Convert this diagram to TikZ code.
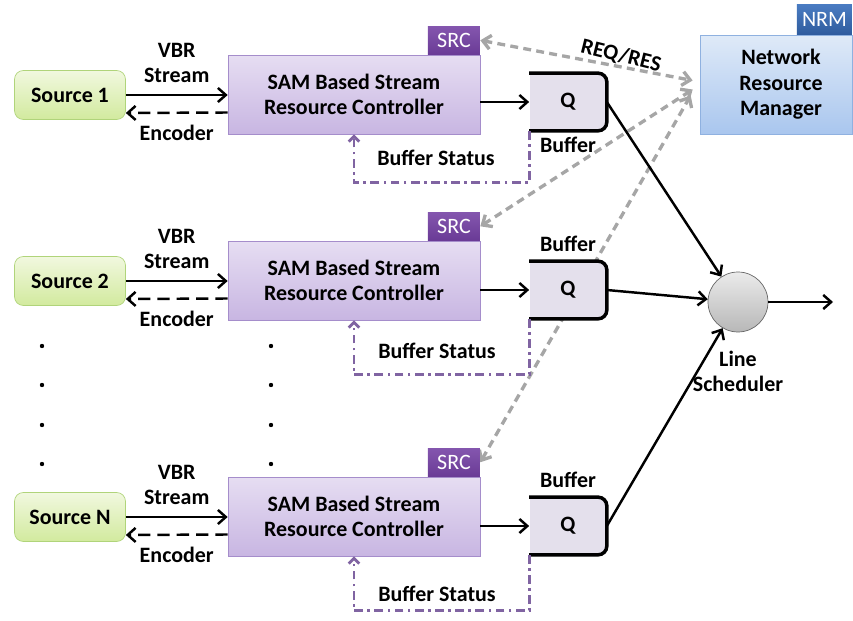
\documentclass[tikz,border=0pt]{standalone}
\usepackage{fontspec}
\setmainfont{Carlito}
\usetikzlibrary{positioning, arrows.meta, calc, backgrounds}

\definecolor{srctop}{HTML}{F1F8DF}
\definecolor{srcbot}{HTML}{D2EA9E}
\definecolor{srcline}{HTML}{B0D47A}
\definecolor{samtop}{HTML}{E6DDF2}
\definecolor{sambot}{HTML}{C8B6E2}
\definecolor{samline}{HTML}{A58DCB}
\definecolor{tabtop}{HTML}{8456AE}
\definecolor{tabbot}{HTML}{6A3B96}
\definecolor{qfill}{HTML}{E4E0EC}
\definecolor{nrmtop}{HTML}{DFEAF8}
\definecolor{nrmbot}{HTML}{A9C6EE}
\definecolor{nrmline}{HTML}{8FB1E0}
\definecolor{nrmtabtop}{HTML}{4A7CC2}
\definecolor{nrmtabbot}{HTML}{2F5C9E}
\definecolor{reqgray}{HTML}{A6A6A6}
\definecolor{statuspurple}{HTML}{8064A2}

\begin{document}
\begin{tikzpicture}[
    x=0.02cm, y=-0.02cm,
    >={Straight Barb[length=4.5pt,width=8pt]},
    font=\bfseries\fontsize{12.5}{14.5}\selectfont,
    source/.style={
        draw=srcline, rounded corners=5pt,
        top color=srctop, bottom color=srcbot,
        minimum width=2.22cm, minimum height=0.98cm
    },
    sam/.style={
        draw=samline, top color=samtop, bottom color=sambot,
        minimum width=5.04cm, minimum height=1.58cm, align=center
    },
    tab/.style={
        top color=#1top, bottom color=#1bot, text=white,
        font=\fontsize{12.5}{14}\selectfont,
        inner sep=0pt, minimum height=0.56cm
    },
    queue/.style={fill=qfill, minimum width=1.54cm, minimum height=1.14cm},
    qedge/.style={line width=2pt, rounded corners=5pt},
    flow/.style={line width=1.4pt},
    enc/.style={line width=1.4pt, dash pattern=on 7pt off 4pt},
    status/.style={statuspurple, line width=1.6pt,
        dash pattern=on 5pt off 2.5pt on 1.5pt off 2.5pt},
    req/.style={reqgray, line width=1.9pt, dash pattern=on 4.5pt off 3pt}
]
\useasboundingbox (0,0) rectangle (853,621);

% first stream
\node[source] (src1) at (70,95) {Source 1};
\node[sam] (sam1) at (354,94.5) {SAM Based Stream\\Resource Controller};
\node[tab=tab, minimum width=1.04cm, above left=0pt and 0pt of sam1.north east] (tab1) {SRC};
\node[queue] (q1) at (568,102) {Q};

% second stream
\node[source] (src2) at (70,281) {Source 2};
\node[sam] (sam2) at (354,280.5) {SAM Based Stream\\Resource Controller};
\node[tab=tab, minimum width=1.04cm, above left=0pt and 0pt of sam2.north east] (tab2) {SRC};
\node[queue] (q2) at (568,290) {Q};

% last stream
\node[source] (src3) at (70,517) {Source N};
\node[sam] (sam3) at (354,516.5) {SAM Based Stream\\Resource Controller};
\node[tab=tab, minimum width=1.04cm, above left=0pt and 0pt of sam3.north east] (tab3) {SRC};
\node[queue] (q3) at (568,526) {Q};

% scheduler and manager
\node[circle, draw=black!60, top color=black!8, bottom color=black!28,
      minimum size=1.2cm] (sched) at (738,302) {};
\node[below=7pt of sched, align=center] (schedlbl) {Line\\Scheduler};
\coordinate (out) at (833,302);
\node[draw=nrmline, top color=nrmtop, bottom color=nrmbot, align=center,
      minimum width=3.04cm, minimum height=1.98cm] (nrm) at (776,84.5)
      {\hspace*{0.2cm}Network\\\hspace*{0.2cm}Resource\\\hspace*{0.2cm}Manager};
\node[tab=nrmtab, minimum width=1.1cm, minimum height=0.6cm,
      above left=0pt and 0pt of nrm.north east] (nrmtab) {NRM};

% queue outlines
\draw[qedge] (q1.north west) -- (q1.north east) -- (q1.south east) -- (q1.south west);
\draw[qedge] (q2.north west) -- (q2.north east) -- (q2.south east) -- (q2.south west);
\draw[qedge] (q3.north west) -- (q3.north east) -- (q3.south east) -- (q3.south west);

% labels
\node[below=0pt of q1] (buf1) {Buffer};
\node[above=2pt of q2] (buf2) {Buffer};
\node[above=2pt of q3] (buf3) {Buffer};
\node (bs1) at (436,158) {Buffer Status};
\node (bs2) at (437,351) {Buffer Status};
\node (bs3) at (437,594) {Buffer Status};
\node[rotate=-14] (reqres) at (621,56) {REQ/RES};

% dots
\foreach \y in {346,385,425,464} {
    \fill (42,\y) circle (2.2);
    \fill (271,\y) circle (2.2);
}

% transitions
\path[->, flow]
(src1.east) edge node[above=3pt, align=center] {VBR\\Stream} (src1.east -| sam1.west)
(src2.east) edge node[above=3pt, align=center] {VBR\\Stream} (src2.east -| sam2.west)
(src3.east) edge node[above=3pt, align=center] {VBR\\Stream} (src3.east -| sam3.west)
(sam1.east |- q1.west) edge (q1.west)
(sam2.east |- q2.west) edge (q2.west)
(sam3.east |- q3.west) edge (q3.west)
(q1.east) edge (sched)
(q2.east) edge (sched)
(q3.east) edge (sched)
(sched) edge (out);

\path[->, enc]
($(sam1.west)+(0,18)$) edge node[below=3pt] {Encoder} ($(src1.east)+(0,18)$)
($(sam2.west)+(0,18)$) edge node[below=3pt] {Encoder} ($(src2.east)+(0,18)$)
($(sam3.west)+(0,18)$) edge node[below=3pt] {Encoder} ($(src3.east)+(0,18)$);

% buffer status feedback
\draw[status, -{Straight Barb[length=3pt,width=6pt]}] (q1.south west) -- ++(0,52) -| (sam1.south);
\draw[status, -{Straight Barb[length=3pt,width=6pt]}] (q2.south west) -- ++(0,56) -| (sam2.south);
\draw[status, -{Straight Barb[length=3pt,width=6pt]}] (q3.south west) -- ++(0,56) -| (sam3.south);

% requests to the manager
\begin{scope}[on background layer]
\draw[req, <->] (tab1.east) -- ($(nrm.west)+(-7,-4)$);
\draw[req, <->] (tab2.east) -- ($(nrm.west)+(-7,5)$);
\draw[req, <->] (tab3.east) -- ($(nrm.west)+(-9,11)$);
\end{scope}
\end{tikzpicture}
\end{document}
